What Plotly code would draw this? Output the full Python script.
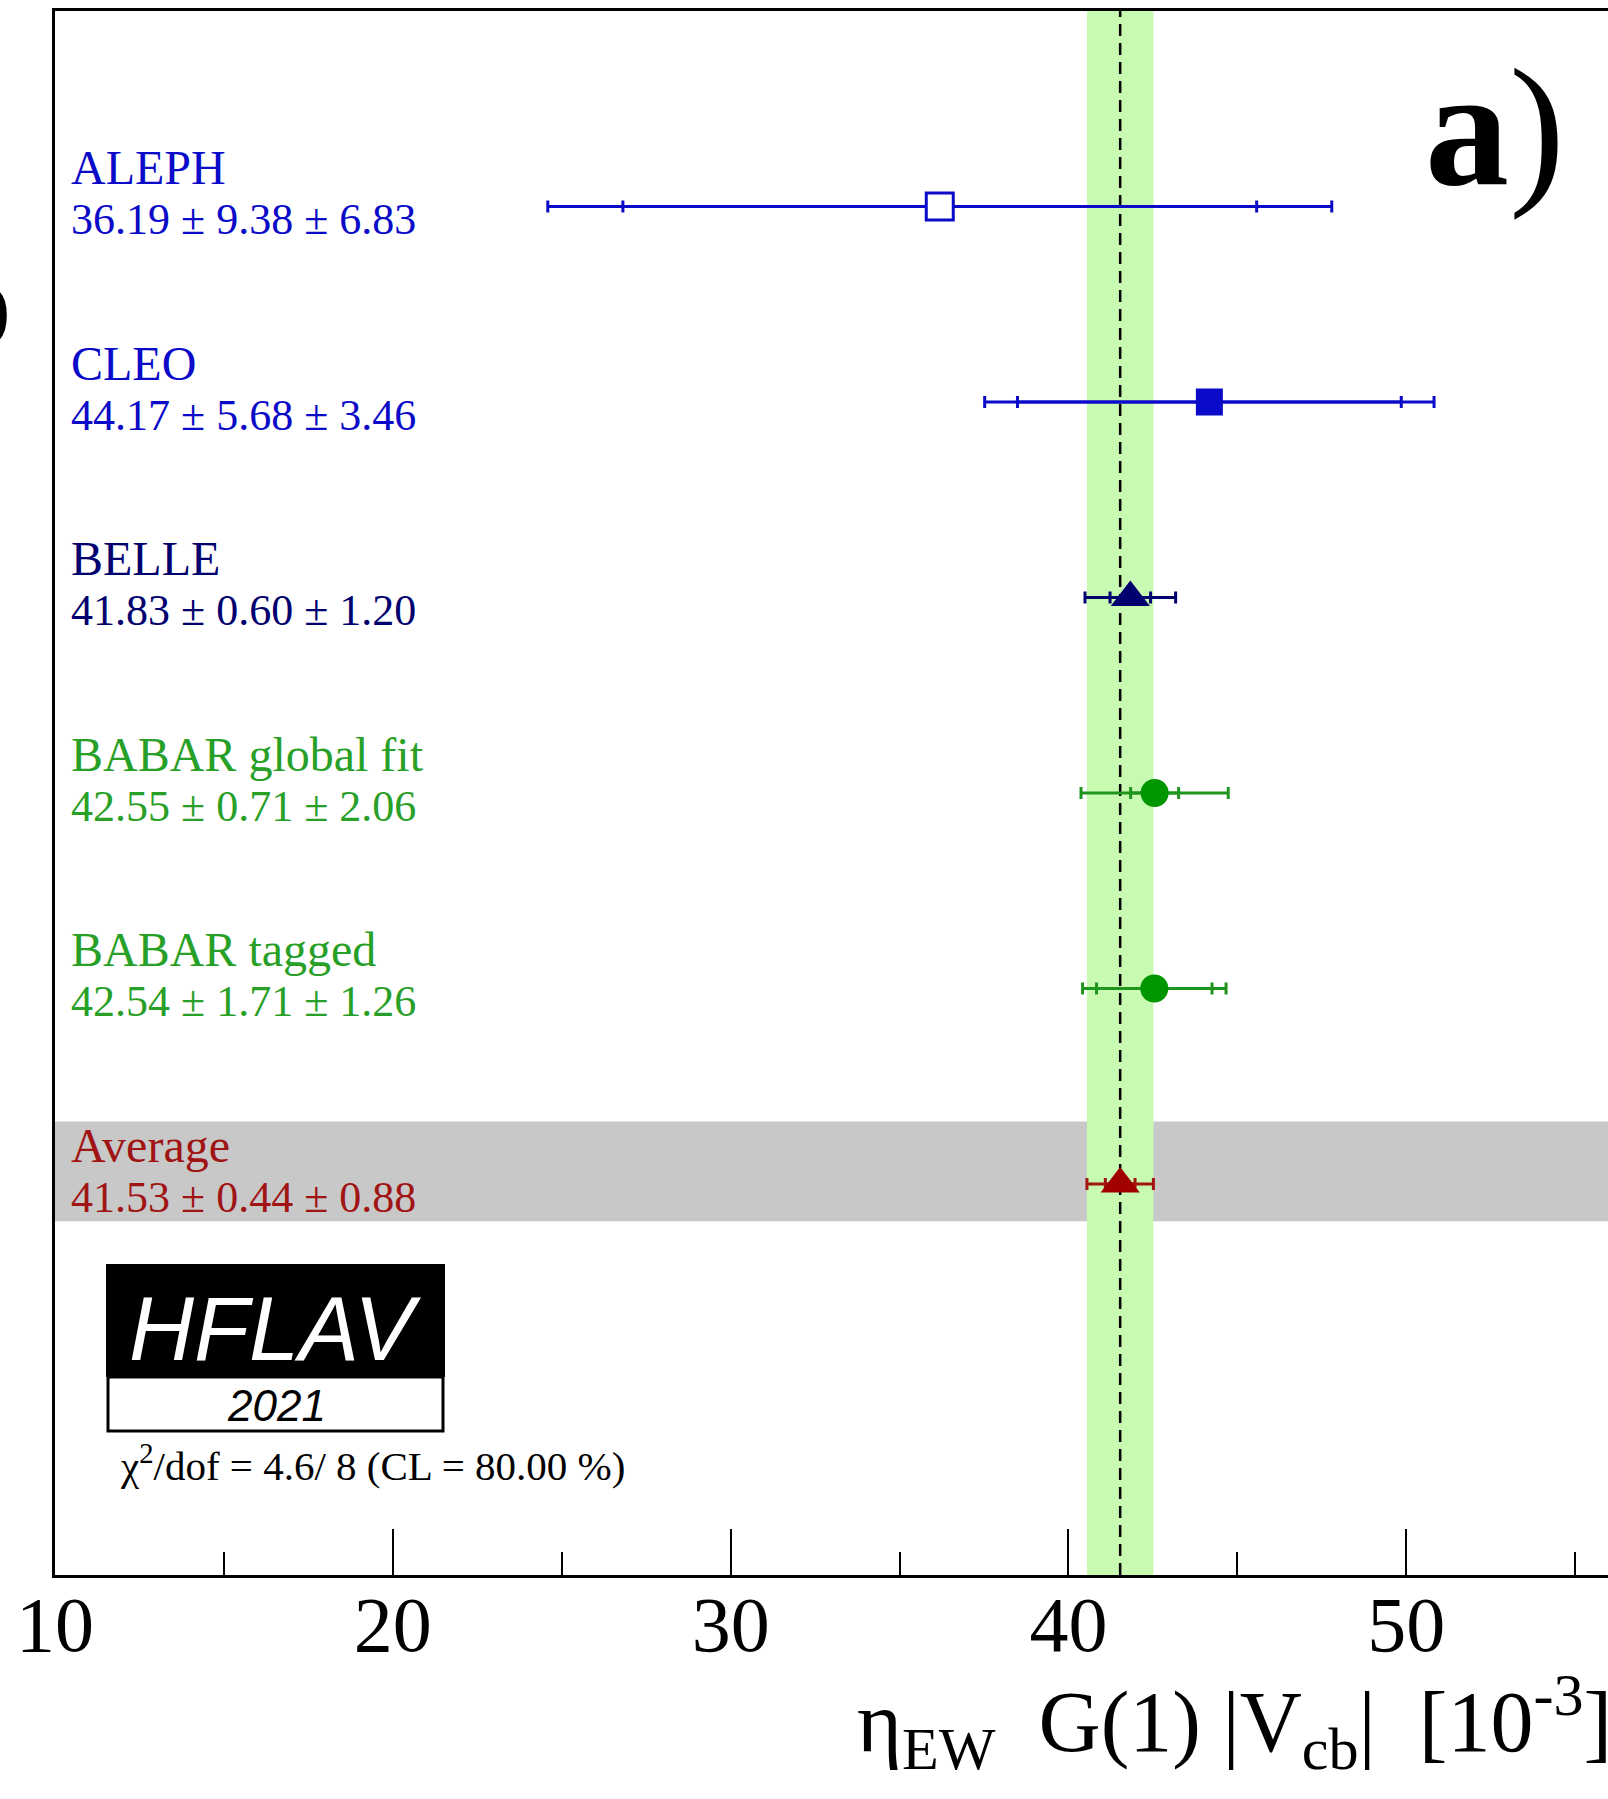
import plotly.graph_objects as go
import math

# ---- data ----
experiments = ["ALEPH", "CLEO", "BELLE", "BABAR global fit", "BABAR tagged", "Average"]
values = [36.19, 44.17, 41.83, 42.55, 42.54, 41.53]
stat_err = [9.38, 5.68, 0.60, 0.71, 1.71, 0.44]
syst_err = [6.83, 3.46, 1.20, 2.06, 1.26, 0.88]
row_pos = [6, 5, 4, 3, 2, 1]
x_tickvals = [10, 20, 30, 40, 50]
x_ticktext = ["10", "20", "30", "40", "50"]
chi2_text = "χ<sup>2</sup>/dof = 4.6/ 8 (CL = 80.00 %)"
logo_text = "HFLAV"
logo_year = "2021"
panel_label = "a"

# ---- styles ----
marker_symbols = ["square", "square", "triangle-up", "circle", "circle", "triangle-up"]
marker_sizes = [27, 27, 34, 28, 28, 34]
marker_fill = ["white", "rgb(10,10,200)", "rgb(0,0,110)", "rgb(0,150,0)", "rgb(0,150,0)", "rgb(160,0,0)"]
line_colors = ["rgb(10,10,200)", "rgb(10,10,200)", "rgb(0,0,110)", "rgb(30,150,30)", "rgb(30,150,30)", "rgb(160,20,20)"]
text_colors = ["rgb(10,10,200)", "rgb(10,10,200)", "rgb(0,0,110)", "rgb(40,160,40)", "rgb(40,160,40)", "rgb(160,20,20)"]
serif = "Liberation Serif"

W, H = 1608, 1799
L, R, T, B = 55, 0, 11, 224

total_err = [math.sqrt(s * s + y * y) for s, y in zip(stat_err, syst_err)]

fig = go.Figure()


def px_x(p):
    return (p - L) / (W - L - R)


def px_y(p):
    return (H - B - p) / (H - B - T)


for i, name in enumerate(experiments):
    # total error bar
    fig.add_trace(go.Scatter(
        x=[values[i]], y=[row_pos[i]], mode="markers",
        marker=dict(size=1, color="rgba(0,0,0,0)"),
        error_x=dict(type="data", array=[total_err[i]], symmetric=True,
                     color=line_colors[i], thickness=3, width=6),
        showlegend=False, hoverinfo="skip"))
    # stat error bar
    fig.add_trace(go.Scatter(
        x=[values[i]], y=[row_pos[i]], mode="markers",
        marker=dict(size=1, color="rgba(0,0,0,0)"),
        error_x=dict(type="data", array=[stat_err[i]], symmetric=True,
                     color=line_colors[i], thickness=3, width=6),
        showlegend=False, hoverinfo="skip"))
    # marker
    fig.add_trace(go.Scatter(
        x=[values[i]], y=[row_pos[i]], mode="markers",
        marker=dict(symbol=marker_symbols[i], size=marker_sizes[i], color=marker_fill[i],
                    line=dict(color=line_colors[i], width=3 if i == 0 else 0)),
        showlegend=False, name=name))

    fig.add_annotation(x=px_x(69), xref="paper", y=row_pos[i], yref="y",
                       text=name, showarrow=False, xanchor="left", yanchor="middle",
                       yshift=39, font=dict(family=serif, size=48, color=text_colors[i]))
    fig.add_annotation(x=px_x(69), xref="paper", y=row_pos[i], yref="y",
                       text=f"{values[i]:.2f} ± {stat_err[i]:.2f} ± {syst_err[i]:.2f}",
                       showarrow=False, xanchor="left", yanchor="middle",
                       yshift=-13, font=dict(family=serif, size=44, color=text_colors[i]))

avg = values[-1]
avg_tot = total_err[-1]
avg_row = row_pos[-1]

shapes = [
    dict(type="rect", xref="paper", yref="y", x0=0, x1=1, y0=avg_row - 0.19, y1=avg_row + 0.32,
         fillcolor="rgb(200,200,200)", line=dict(width=0), layer="below"),
    dict(type="rect", xref="x", yref="paper", x0=avg - avg_tot, x1=avg + avg_tot, y0=0, y1=1,
         fillcolor="rgb(200,250,178)", line=dict(width=0), layer="below"),
    dict(type="line", xref="x", yref="paper", x0=avg, x1=avg, y0=0, y1=1,
         line=dict(color="black", width=2.5, dash="12px,7px"), layer="below"),
]

# HFLAV logo
shapes.append(dict(type="rect", xref="paper", yref="paper",
                   x0=px_x(106), x1=px_x(445), y0=px_y(1377), y1=px_y(1264),
                   fillcolor="black", line=dict(width=0), layer="above"))
shapes.append(dict(type="rect", xref="paper", yref="paper",
                   x0=px_x(108), x1=px_x(443), y0=px_y(1431), y1=px_y(1377),
                   fillcolor="white", line=dict(color="black", width=3), layer="above"))

fig.add_annotation(x=px_x(275), y=px_y(1329), xref="paper", yref="paper",
                   text=f"<i>{logo_text}</i>", showarrow=False, xanchor="center", yanchor="middle",
                   font=dict(family="Liberation Sans", size=90, color="white"))
fig.add_annotation(x=px_x(276), y=px_y(1405), xref="paper", yref="paper",
                   text=f"<i>{logo_year}</i>", showarrow=False, xanchor="center", yanchor="middle",
                   font=dict(family="Liberation Sans", size=44, color="black"))
fig.add_annotation(x=px_x(118), y=px_y(1463), xref="paper", yref="paper",
                   text=chi2_text, showarrow=False, xanchor="left", yanchor="middle",
                   font=dict(family=serif, size=41, color="black"))
fig.add_annotation(x=px_x(1495), y=px_y(127), xref="paper", yref="paper",
                   text=f"<b>{panel_label}</b>)", showarrow=False, xanchor="center", yanchor="middle",
                   font=dict(family=serif, size=168, color="black"))
# fragment at the left edge
fig.add_annotation(x=px_x(12), y=px_y(309), xref="paper", yref="paper",
                   text="<b>)</b>", showarrow=False, xanchor="right", yanchor="middle",
                   font=dict(family=serif, size=72, color="black"))

# x axis title
fig.add_annotation(x=px_x(1614), y=px_y(1721), xref="paper", yref="paper",
                   text="η<sub>EW</sub>&nbsp; G(1) |V<sub>cb</sub>|  [10<sup>-3</sup>]",
                   showarrow=False, xanchor="right", yanchor="middle",
                   font=dict(family=serif, size=86, color="black"))

fig.update_layout(
    width=W, height=H,
    margin=dict(l=L, r=R, t=T, b=B),
    paper_bgcolor="white", plot_bgcolor="white",
    shapes=shapes,
    showlegend=False,
    xaxis=dict(range=[10, 55.97], tickvals=x_tickvals, ticktext=x_ticktext,
               ticks="inside", ticklen=46, tickwidth=2, tickcolor="black",
               minor=dict(tickvals=[15, 25, 35, 45, 55], ticks="inside", ticklen=23,
                          tickwidth=2, tickcolor="black"),
               showline=True, linecolor="black", linewidth=3, mirror=True,
               showgrid=False, zeroline=False,
               tickfont=dict(family=serif, size=78, color="black"),
               ticklabelstandoff=-21),
    yaxis=dict(range=[-1, 7], showticklabels=False, ticks="",
               showline=True, linecolor="black", linewidth=3, mirror=False,
               showgrid=False, zeroline=False),
)

fig.write_html("out.html")
